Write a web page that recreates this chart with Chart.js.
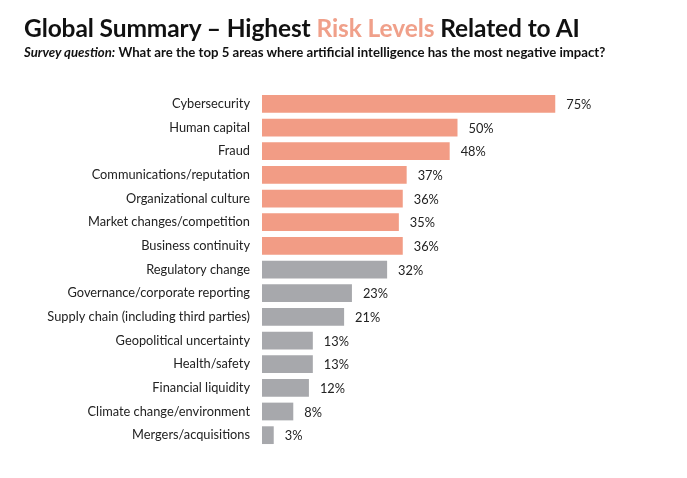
<!DOCTYPE html>
<html>
<head>
<meta charset="utf-8">
<script src="https://cdn.jsdelivr.net/npm/chart.js@4.4.1/dist/chart.umd.min.js"></script>
<style>
  html, body { margin: 0; padding: 0; background: #ffffff; }
  #wrap { position: relative; width: 687px; height: 478px; overflow: hidden; }
  #title { position: absolute; left: 24px; top: 13px; font-family: Lato, sans-serif; font-weight: 700; font-size: 24.5px; color: #111; white-space: nowrap; letter-spacing: -0.1px; }
  #title span { color: #F0A08A; }
  #sub { position: absolute; left: 24px; top: 44px; font-family: Lato, sans-serif; font-weight: 700; font-size: 13.2px; color: #111; white-space: nowrap; }
  #sub i { font-style: italic; }
  canvas { position: absolute; left: 0; top: 0; }
</style>
</head>
<body>
<div id="wrap">
  <canvas id="c" width="687" height="478"></canvas>
  <div id="title">Global Summary – Highest <span>Risk Levels</span> Related to AI</div>
  <div id="sub"><i>Survey question:</i> What are the top 5 areas where artificial intelligence has the most negative impact?</div>
</div>
<script>
const categories = [
  "Cybersecurity", "Human capital", "Fraud", "Communications/reputation",
  "Organizational culture", "Market changes/competition", "Business continuity",
  "Regulatory change", "Governance/corporate reporting",
  "Supply chain (including third parties)", "Geopolitical uncertainty",
  "Health/safety", "Financial liquidity", "Climate change/environment",
  "Mergers/acquisitions"
];
const values = [75, 50, 48, 37, 36, 35, 36, 32, 23, 21, 13, 13, 12, 8, 3];
const topFive = [true, true, true, true, true, true, true, false, false, false, false, false, false, false, false];

const SALMON = "#F29C85";
const GRAY = "#A7A8AC";

const labelPlugin = {
  id: "valueLabels",
  afterDatasetsDraw(chart) {
    const ctx = chart.ctx;
    const meta = chart.getDatasetMeta(0);
    ctx.save();
    ctx.font = "12.8px Lato, sans-serif";
    ctx.fillStyle = "#222";
    ctx.textAlign = "left";
    ctx.textBaseline = "middle";
    meta.data.forEach((bar, i) => {
      ctx.fillText(values[i] + "%", bar.x + 11, bar.y + 1);
    });
    ctx.restore();
  }
};

new Chart(document.getElementById("c"), {
  type: "bar",
  data: {
    labels: categories,
    datasets: [{
      data: values,
      backgroundColor: topFive.map(t => t ? SALMON : GRAY),
      borderWidth: 0,
      barPercentage: 0.75,
      categoryPercentage: 1.0
    }]
  },
  options: {
    indexAxis: "y",
    responsive: false,
    animation: false,
    layout: { padding: { top: 92, bottom: 31, left: 0, right: 34 } },
    plugins: { legend: { display: false }, tooltip: { enabled: false } },
    scales: {
      x: { display: false, min: 0, max: 100 },
      y: {
        grid: { display: false, drawTicks: false },
        border: { display: false },
        ticks: { padding: 12, color: "#222", font: { family: "Lato, sans-serif", size: 12.8 } },
        afterFit(scale) { scale.width = 262; }
      }
    }
  },
  plugins: [labelPlugin]
});
</script>
</body>
</html>
